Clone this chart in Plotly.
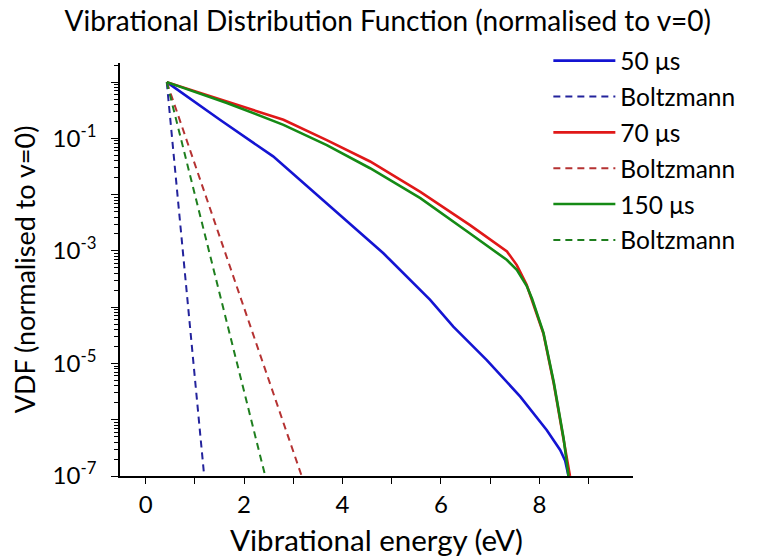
import plotly.graph_objects as go

# ---- data ----
e_50 = [0.43, 1.51, 2.59, 3.14, 4.52, 4.83, 5.78, 6.25, 6.93, 7.61, 8.15, 8.42, 8.52, 8.59]
vdf_50 = [1.0, 0.214, 0.0479, 0.0182, 1.58e-3, 9.1e-4, 1.35e-4, 4.5e-5, 1.15e-5, 2.57e-6, 6.5e-7, 2.9e-7, 1.9e-7, 1.0e-7]

e_70 = [0.43, 1.65, 2.80, 3.68, 4.56, 5.58, 6.59, 7.34, 7.54, 7.74, 7.85, 8.08, 8.29, 8.49, 8.62]
vdf_70 = [1.0, 0.452, 0.214, 0.0933, 0.0389, 0.0112, 2.88e-3, 9.8e-4, 5.6e-4, 2.5e-4, 1.35e-4, 3.4e-5, 4.4e-6, 4.4e-7, 1.0e-7]

e_150 = [0.43, 1.65, 2.80, 3.68, 4.56, 5.58, 6.59, 7.34, 7.54, 7.74, 7.85, 8.08, 8.29, 8.49, 8.59]
vdf_150 = [1.0, 0.427, 0.174, 0.0759, 0.0295, 8.7e-3, 2.04e-3, 6.9e-4, 4.6e-4, 2.4e-4, 1.41e-4, 3.55e-5, 4.7e-6, 4.7e-7, 1.0e-7]

e_b50 = [0.43, 1.19]
vdf_b50 = [1.0, 1.0e-7]
e_b70 = [0.43, 3.17]
vdf_b70 = [1.0, 1.0e-7]
e_b150 = [0.43, 2.43]
vdf_b150 = [1.0, 1.0e-7]

y_tickvals = [1, 1e-1, 1e-2, 1e-3, 1e-4, 1e-5, 1e-6, 1e-7]
y_ticktext = ["", "10<sup>-1</sup>", "", "10<sup>-3</sup>", "", "10<sup>-5</sup>", "", "10<sup>-7</sup>"]
y_minor = [k * 10.0 ** n for n in range(-7, 1) for k in range(2, 10)]

FONT = "Lato"
DASH = "7px,5px"

series = [
    ("50 \u03bcs", e_50, vdf_50, "#1414D2", "solid", 2.6),
    ("Boltzmann", e_b50, vdf_b50, "#23239C", DASH, 2.0),
    ("70 \u03bcs", e_70, vdf_70, "#E01818", "solid", 2.6),
    ("Boltzmann", e_b70, vdf_b70, "#B53232", DASH, 2.0),
    ("150 \u03bcs", e_150, vdf_150, "#158A15", "solid", 2.6),
    ("Boltzmann", e_b150, vdf_b150, "#1E7E1E", DASH, 2.0),
]

fig = go.Figure()
for i, (name, x, y, col, dash, w) in enumerate(series):
    fig.add_trace(go.Scatter(
        x=x, y=y, mode="lines", name=name, legendgroup=f"g{i}",
        line=dict(color=col, dash=dash, width=w),
    ))

fig.update_layout(
    width=771, height=559,
    margin=dict(l=120, r=138, t=63, b=83),
    paper_bgcolor="white", plot_bgcolor="white",
    font=dict(family=FONT, color="black", size=22),
    title=dict(text="Vibrational Distribution Function (normalised to v=0)",
               x=0.503, xref="container", xanchor="center",
               y=0.962, yref="container", yanchor="middle",
               font=dict(family=FONT, size=28, color="black")),
    showlegend=True,
    legend=dict(x=0.835, xanchor="left", y=1.06, yanchor="top",
                bgcolor="rgba(0,0,0,0)", font=dict(family=FONT, size=24.5, color="black"),
                tracegroupgap=1, itemwidth=62, traceorder="grouped"),
    xaxis=dict(range=[-0.52, 9.9], tickmode="linear", tick0=0, dtick=2,
               ticks="outside", ticklen=6, tickwidth=1.3, tickcolor="black",
               showline=True, linecolor="black", linewidth=1.6,
               showgrid=False, zeroline=False, automargin=False,
               minor=dict(tickmode="linear", tick0=1, dtick=1, ticks="outside", ticklen=6,
                          tickwidth=1.3, tickcolor="black", showgrid=False),
               tickfont=dict(family=FONT, size=24),
               title=dict(text="Vibrational energy (eV)", standoff=14,
                          font=dict(family=FONT, size=29.5))),
    yaxis=dict(type="log", range=[-7, 0.34], tickmode="array",
               tickvals=y_tickvals, ticktext=y_ticktext,
               ticks="outside", ticklen=7, tickwidth=1.3, tickcolor="black",
               showline=True, linecolor="black", linewidth=1.6,
               showgrid=False, zeroline=False, automargin=False,
               ticklabelstandoff=10,
               minor=dict(tickmode="array", tickvals=y_minor, ticks="outside", ticklen=4,
                          tickwidth=1, tickcolor="black", showgrid=False),
               tickfont=dict(family=FONT, size=24),
               title=dict(text="VDF (normalised to v=0)", standoff=9,
                          font=dict(family=FONT, size=27))),
)

fig.write_html("out.html")
